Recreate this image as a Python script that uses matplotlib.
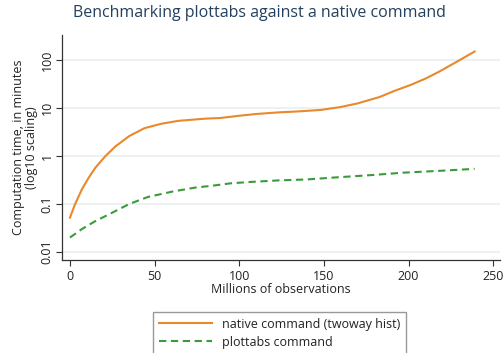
import matplotlib.pyplot as plt
from matplotlib.ticker import FixedLocator, NullLocator

plt.rcParams['font.family'] = ['Open Sans', 'DejaVu Sans']

# ── benchmark timings (minutes) ─────────────────────────────────────────────
obs_native = [0, 3, 7, 11, 15, 21, 27, 35, 44, 54, 64, 72, 80, 89, 100,
              110, 123, 135, 148, 160, 170, 183, 192, 201, 210, 218, 228, 239]
time_native = [0.052, 0.099, 0.2, 0.35, 0.57, 1.0, 1.6, 2.6, 3.8, 4.7, 5.4,
               5.7, 6.0, 6.2, 6.9, 7.5, 8.1, 8.5, 9.1, 10.5, 12.5, 17, 23,
               30, 41, 57, 90, 150]

obs_plottabs = [0, 7, 15, 25, 35, 46, 60, 74, 84, 95, 108, 123, 140,
                158, 178, 197, 218, 239]
time_plottabs = [0.020, 0.030, 0.044, 0.066, 0.10, 0.14, 0.18, 0.22, 0.24,
                 0.27, 0.29, 0.31, 0.325, 0.36, 0.40, 0.45, 0.49, 0.54]

xticks = [0, 50, 100, 150, 200, 250]
yticks = [0.01, 0.1, 1, 10, 100]
ytick_labels = ["0.01", "0.1", "1", "10", "100"]

ORANGE = '#e8892b'
GREEN = '#3a9b3a'
TEXT = '#222222'

fig = plt.figure(figsize=(5.03, 3.53), dpi=100)
ax = fig.add_axes([62 / 503, 1 - 260 / 353, 438 / 503, 225 / 353])

ax.plot(obs_native, time_native, color=ORANGE, lw=1.5,
        label='native command (twoway hist)')
ax.plot(obs_plottabs, time_plottabs, color=GREEN, lw=1.5,
        dashes=(3.5, 2.2), label='plottabs command')

ax.set_yscale('log')
ax.set_xlim(-4.7, 254)
ax.set_ylim(10 ** (-104 / 48), 10 ** (121 / 48))

ax.xaxis.set_major_locator(FixedLocator(xticks))
ax.yaxis.set_major_locator(FixedLocator(yticks))
ax.yaxis.set_minor_locator(NullLocator())
ax.set_yticklabels(ytick_labels, rotation=90, va='center')
ax.tick_params(axis='both', direction='out', length=4, width=0.8,
               colors='#333333', labelcolor=TEXT, labelsize=9)
ax.tick_params(axis='x', pad=3)
ax.tick_params(axis='y', pad=2)

ax.grid(axis='y', color='#eaf1f1', lw=1.3)
ax.set_axisbelow(True)
for side in ('top', 'right'):
    ax.spines[side].set_visible(False)
for side in ('left', 'bottom'):
    ax.spines[side].set_color('#333333')
    ax.spines[side].set_linewidth(0.9)

ax.set_xlabel('Millions of observations', fontsize=9, color=TEXT, labelpad=0)
ax.set_ylabel('Computation time, in minutes\n(log10 scaling)', fontsize=9,
              color=TEXT, labelpad=2, linespacing=0.95)

fig.suptitle('Benchmarking plottabs against a native command', x=0.515,
             y=0.985, fontsize=11.5, color='#23405e')

leg = fig.legend(loc='upper left', bbox_to_anchor=(153 / 503, 1 - 312 / 353),
                 borderaxespad=0, fontsize=9, frameon=True, fancybox=False,
                 handlelength=4.3, handletextpad=0.8, borderpad=0.45,
                 labelspacing=0.4)
leg.get_frame().set_edgecolor('#808080')
leg.get_frame().set_linewidth(1.0)
for t in leg.get_texts():
    t.set_color(TEXT)

fig.savefig('out.png', dpi=100)
